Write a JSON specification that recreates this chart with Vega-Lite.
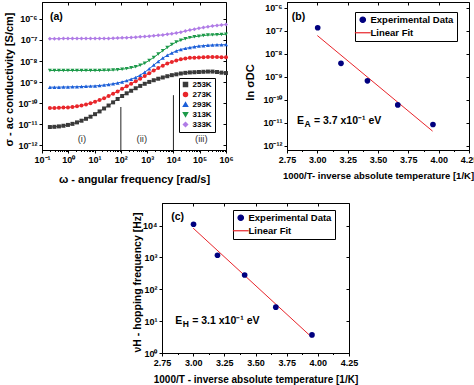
{
"$schema":"https://vega.github.io/schema/vega-lite/v6.json",
"padding":{"left":2,"top":1,"right":0,"bottom":0},
"background":"white",
"spacing":17,
"config":{
 "font":"Liberation Sans",
 "view":{"stroke":"black","strokeWidth":1},
 "axis":{"grid":false,"domainColor":"black","tickColor":"black","labelColor":"black","titleColor":"black","labelFontWeight":"bold","labelFontSize":9,"titleFontWeight":"bold","tickSize":3,"labelPadding":2,"labelOverlap":false,"labelFlush":false,"labelBound":false},
 "legend":{"labelColor":"black","labelFontWeight":"bold","rowPadding":0}
},
"datasets":{
"cond":[
{"w":0.1995,"T":"253K","s":7.41e-12},{"w":0.2965,"T":"253K","s":7.59e-12},{"w":0.4406,"T":"253K","s":7.94e-12},{"w":0.6531,"T":"253K","s":8.51e-12},{"w":0.9705,"T":"253K","s":9.33e-12},{"w":1.442,"T":"253K","s":1.047e-11},{"w":2.143,"T":"253K","s":1.23e-11},{"w":3.184,"T":"253K","s":1.479e-11},{"w":4.721,"T":"253K","s":1.82e-11},{"w":7.015,"T":"253K","s":2.29e-11},{"w":10.42,"T":"253K","s":3.02e-11},{"w":15.49,"T":"253K","s":4.07e-11},{"w":23.01,"T":"253K","s":5.62e-11},{"w":34.12,"T":"253K","s":7.76e-11},{"w":50.7,"T":"253K","s":1.096e-10},{"w":75.34,"T":"253K","s":1.585e-10},{"w":111.9,"T":"253K","s":2.19e-10},{"w":166.3,"T":"253K","s":2.95e-10},{"w":246.6,"T":"253K","s":3.89e-10},{"w":366.4,"T":"253K","s":5.13e-10},{"w":544.5,"T":"253K","s":6.61e-10},{"w":809.1,"T":"253K","s":8.32e-10},{"w":1202,"T":"253K","s":1.023e-9},{"w":1782,"T":"253K","s":1.23e-9},{"w":2649,"T":"253K","s":1.445e-9},{"w":3936,"T":"253K","s":1.66e-9},{"w":5848,"T":"253K","s":1.905e-9},{"w":8690,"T":"253K","s":2.14e-9},{"w":12882,"T":"253K","s":2.34e-9},{"w":19143,"T":"253K","s":2.57e-9},{"w":28445,"T":"253K","s":2.75e-9},{"w":42267,"T":"253K","s":2.88e-9},{"w":62806,"T":"253K","s":2.95e-9},{"w":93111,"T":"253K","s":3.02e-9},{"w":138357,"T":"253K","s":3.09e-9},{"w":205589,"T":"253K","s":3.16e-9},{"w":305492,"T":"253K","s":3.16e-9},{"w":453942,"T":"253K","s":3.02e-9},{"w":672977,"T":"253K","s":2.82e-9},{"w":1000000,"T":"253K","s":2.69e-9},
{"w":0.1995,"T":"273K","s":5.89e-11},{"w":0.2965,"T":"273K","s":5.89e-11},{"w":0.4406,"T":"273K","s":6.03e-11},{"w":0.6531,"T":"273K","s":6.17e-11},{"w":0.9705,"T":"273K","s":6.31e-11},{"w":1.442,"T":"273K","s":6.61e-11},{"w":2.143,"T":"273K","s":7.08e-11},{"w":3.184,"T":"273K","s":7.76e-11},{"w":4.721,"T":"273K","s":8.71e-11},{"w":7.015,"T":"273K","s":1.0e-10},{"w":10.42,"T":"273K","s":1.175e-10},{"w":15.49,"T":"273K","s":1.413e-10},{"w":23.01,"T":"273K","s":1.738e-10},{"w":34.12,"T":"273K","s":2.19e-10},{"w":50.7,"T":"273K","s":2.82e-10},{"w":75.34,"T":"273K","s":3.63e-10},{"w":111.9,"T":"273K","s":4.79e-10},{"w":166.3,"T":"273K","s":6.31e-10},{"w":246.6,"T":"273K","s":8.32e-10},{"w":366.4,"T":"273K","s":1.096e-9},{"w":544.5,"T":"273K","s":1.445e-9},{"w":809.1,"T":"273K","s":1.95e-9},{"w":1202,"T":"273K","s":2.63e-9},{"w":1782,"T":"273K","s":3.55e-9},{"w":2649,"T":"273K","s":4.68e-9},{"w":3936,"T":"273K","s":6.03e-9},{"w":5848,"T":"273K","s":7.59e-9},{"w":8690,"T":"273K","s":9.12e-9},{"w":12882,"T":"273K","s":1.072e-8},{"w":19143,"T":"273K","s":1.202e-8},{"w":28445,"T":"273K","s":1.318e-8},{"w":42267,"T":"273K","s":1.413e-8},{"w":62806,"T":"273K","s":1.445e-8},{"w":93111,"T":"273K","s":1.479e-8},{"w":138357,"T":"273K","s":1.514e-8},{"w":205589,"T":"273K","s":1.549e-8},{"w":305492,"T":"273K","s":1.549e-8},{"w":453942,"T":"273K","s":1.549e-8},{"w":672977,"T":"273K","s":1.514e-8},{"w":1000000,"T":"273K","s":1.514e-8},
{"w":0.1995,"T":"293K","s":5.75e-10},{"w":0.2965,"T":"293K","s":5.75e-10},{"w":0.4406,"T":"293K","s":5.75e-10},{"w":0.6531,"T":"293K","s":5.89e-10},{"w":0.9705,"T":"293K","s":5.89e-10},{"w":1.442,"T":"293K","s":6.03e-10},{"w":2.143,"T":"293K","s":6.03e-10},{"w":3.184,"T":"293K","s":6.17e-10},{"w":4.721,"T":"293K","s":6.31e-10},{"w":7.015,"T":"293K","s":6.46e-10},{"w":10.42,"T":"293K","s":6.61e-10},{"w":15.49,"T":"293K","s":6.92e-10},{"w":23.01,"T":"293K","s":7.24e-10},{"w":34.12,"T":"293K","s":7.76e-10},{"w":50.7,"T":"293K","s":8.32e-10},{"w":75.34,"T":"293K","s":9.12e-10},{"w":111.9,"T":"293K","s":1.023e-9},{"w":166.3,"T":"293K","s":1.175e-9},{"w":246.6,"T":"293K","s":1.38e-9},{"w":366.4,"T":"293K","s":1.66e-9},{"w":544.5,"T":"293K","s":2.14e-9},{"w":809.1,"T":"293K","s":2.95e-9},{"w":1202,"T":"293K","s":4.27e-9},{"w":1782,"T":"293K","s":6.46e-9},{"w":2649,"T":"293K","s":9.55e-9},{"w":3936,"T":"293K","s":1.38e-8},{"w":5848,"T":"293K","s":1.862e-8},{"w":8690,"T":"293K","s":2.4e-8},{"w":12882,"T":"293K","s":3.02e-8},{"w":19143,"T":"293K","s":3.55e-8},{"w":28445,"T":"293K","s":3.98e-8},{"w":42267,"T":"293K","s":4.37e-8},{"w":62806,"T":"293K","s":4.79e-8},{"w":93111,"T":"293K","s":5.13e-8},{"w":138357,"T":"293K","s":5.37e-8},{"w":205589,"T":"293K","s":5.62e-8},{"w":305492,"T":"293K","s":5.75e-8},{"w":453942,"T":"293K","s":5.89e-8},{"w":672977,"T":"293K","s":5.89e-8},{"w":1000000,"T":"293K","s":6.03e-8},
{"w":0.1995,"T":"313K","s":3.55e-9},{"w":0.2965,"T":"313K","s":3.55e-9},{"w":0.4406,"T":"313K","s":3.55e-9},{"w":0.6531,"T":"313K","s":3.55e-9},{"w":0.9705,"T":"313K","s":3.55e-9},{"w":1.442,"T":"313K","s":3.55e-9},{"w":2.143,"T":"313K","s":3.55e-9},{"w":3.184,"T":"313K","s":3.55e-9},{"w":4.721,"T":"313K","s":3.55e-9},{"w":7.015,"T":"313K","s":3.55e-9},{"w":10.42,"T":"313K","s":3.55e-9},{"w":15.49,"T":"313K","s":3.55e-9},{"w":23.01,"T":"313K","s":3.63e-9},{"w":34.12,"T":"313K","s":3.63e-9},{"w":50.7,"T":"313K","s":3.72e-9},{"w":75.34,"T":"313K","s":3.89e-9},{"w":111.9,"T":"313K","s":4.07e-9},{"w":166.3,"T":"313K","s":4.37e-9},{"w":246.6,"T":"313K","s":4.79e-9},{"w":366.4,"T":"313K","s":5.37e-9},{"w":544.5,"T":"313K","s":6.31e-9},{"w":809.1,"T":"313K","s":7.94e-9},{"w":1202,"T":"313K","s":1.072e-8},{"w":1782,"T":"313K","s":1.479e-8},{"w":2649,"T":"313K","s":2.14e-8},{"w":3936,"T":"313K","s":3.09e-8},{"w":5848,"T":"313K","s":4.37e-8},{"w":8690,"T":"313K","s":6.03e-8},{"w":12882,"T":"313K","s":7.94e-8},{"w":19143,"T":"313K","s":9.77e-8},{"w":28445,"T":"313K","s":1.148e-7},{"w":42267,"T":"313K","s":1.288e-7},{"w":62806,"T":"313K","s":1.413e-7},{"w":93111,"T":"313K","s":1.514e-7},{"w":138357,"T":"313K","s":1.622e-7},{"w":205589,"T":"313K","s":1.698e-7},{"w":305492,"T":"313K","s":1.738e-7},{"w":453942,"T":"313K","s":1.778e-7},{"w":672977,"T":"313K","s":1.82e-7},{"w":1000000,"T":"313K","s":1.862e-7},
{"w":0.1995,"T":"333K","s":1.148e-7},{"w":0.2965,"T":"333K","s":1.148e-7},{"w":0.4406,"T":"333K","s":1.148e-7},{"w":0.6531,"T":"333K","s":1.175e-7},{"w":0.9705,"T":"333K","s":1.175e-7},{"w":1.442,"T":"333K","s":1.175e-7},{"w":2.143,"T":"333K","s":1.175e-7},{"w":3.184,"T":"333K","s":1.175e-7},{"w":4.721,"T":"333K","s":1.175e-7},{"w":7.015,"T":"333K","s":1.175e-7},{"w":10.42,"T":"333K","s":1.175e-7},{"w":15.49,"T":"333K","s":1.175e-7},{"w":23.01,"T":"333K","s":1.175e-7},{"w":34.12,"T":"333K","s":1.175e-7},{"w":50.7,"T":"333K","s":1.202e-7},{"w":75.34,"T":"333K","s":1.23e-7},{"w":111.9,"T":"333K","s":1.259e-7},{"w":166.3,"T":"333K","s":1.288e-7},{"w":246.6,"T":"333K","s":1.318e-7},{"w":366.4,"T":"333K","s":1.349e-7},{"w":544.5,"T":"333K","s":1.413e-7},{"w":809.1,"T":"333K","s":1.445e-7},{"w":1202,"T":"333K","s":1.514e-7},{"w":1782,"T":"333K","s":1.585e-7},{"w":2649,"T":"333K","s":1.66e-7},{"w":3936,"T":"333K","s":1.738e-7},{"w":5848,"T":"333K","s":1.862e-7},{"w":8690,"T":"333K","s":1.995e-7},{"w":12882,"T":"333K","s":2.14e-7},{"w":19143,"T":"333K","s":2.34e-7},{"w":28445,"T":"333K","s":2.63e-7},{"w":42267,"T":"333K","s":2.95e-7},{"w":62806,"T":"333K","s":3.24e-7},{"w":93111,"T":"333K","s":3.55e-7},{"w":138357,"T":"333K","s":3.89e-7},{"w":205589,"T":"333K","s":4.27e-7},{"w":305492,"T":"333K","s":4.57e-7},{"w":453942,"T":"333K","s":4.9e-7},{"w":672977,"T":"333K","s":5.13e-7},{"w":1000000,"T":"333K","s":5.37e-7}
]
},
"vconcat":[
{"hconcat":[
 {"width":184,"height":148,
  "resolve":{"axis":{"x":"independent","y":"independent"}},
  "layer":[
   {"data":{"name":"cond"},"mark":{"type":"line","strokeWidth":1},
    "encoding":{
     "x":{"field":"w","type":"quantitative","scale":{"type":"log","domain":[0.1,1000000],"nice":false},
      "axis":{"title":"ω - angular frequency [rad/s]","values":[0.1,1,10,100,1000,10000,100000,1000000],"labelExpr":"'10' + (round(log(datum.value)/LN10) < 0 ? '⁻' : '') + (abs(round(log(datum.value)/LN10)) >= 10 ? '¹' : '') + ['⁰','¹','²','³','⁴','⁵','⁶','⁷','⁸','⁹'][abs(round(log(datum.value)/LN10)) % 10]","titleFontSize":11,"titleY":23}},
     "y":{"field":"s","type":"quantitative","scale":{"type":"log","domain":[6.03e-13,6.31e-6],"nice":false},
      "axis":{"title":"σ - ac conductivity [S/cm]","values":[1e-12,1e-11,1e-10,1e-9,1e-8,1e-7,1e-6],"labelExpr":"'10' + (round(log(datum.value)/LN10) < 0 ? '⁻' : '') + (abs(round(log(datum.value)/LN10)) >= 10 ? '¹' : '') + ['⁰','¹','²','³','⁴','⁵','⁶','⁷','⁸','⁹'][abs(round(log(datum.value)/LN10)) % 10]","titleFontSize":11,"titleX":-28,"titleY":77}},
     "color":{"field":"T","type":"nominal","scale":{"domain":["253K","273K","293K","313K","333K"],"range":["#3a3a3a","#e8262b","#1c5fd8","#1d9a4a","#b07ce6"]},
      "legend":{"orient":"none","legendX":137,"legendY":76,"title":null,"strokeColor":"black","fillColor":"white","padding":2.5,"labelFontSize":8,"symbolSize":16,"rowPadding":0,"labelOffset":3}}
    }},
   {"data":{"name":"cond"},"mark":{"type":"point","filled":true,"size":16,"opacity":1},
    "encoding":{
     "x":{"field":"w","type":"quantitative","axis":null},
     "y":{"field":"s","type":"quantitative","axis":null},
     "color":{"field":"T","type":"nominal","legend":{"orient":"none","legendX":137,"legendY":76,"title":null,"strokeColor":"black","fillColor":"white","padding":2.5,"labelFontSize":8,"symbolSize":16,"rowPadding":0,"labelOffset":3}},
     "shape":{"field":"T","type":"nominal","scale":{"domain":["253K","273K","293K","313K","333K"],"range":["square","circle","triangle-up","triangle-down","diamond"]},
      "legend":{"orient":"none","legendX":137,"legendY":76,"title":null,"strokeColor":"black","fillColor":"white","padding":2.5,"labelFontSize":8,"symbolSize":16,"rowPadding":0,"labelOffset":3}}
    }},
   {"data":{"values":[{"w":100,"s":6.61e-11,"s2":6.03e-13},{"w":10000,"s":2.4e-10,"s2":6.03e-13}]},
    "mark":{"type":"rule","color":"#222222","strokeWidth":1},
    "encoding":{"x":{"field":"w","type":"quantitative","axis":null},"y":{"field":"s","type":"quantitative","axis":null},"y2":{"field":"s2"}}},
   {"data":{"values":[{"w":3.3,"s":2.0e-12,"lab":"(i)"},{"w":630,"s":2.0e-12,"lab":"(ii)"},{"w":115000,"s":2.0e-12,"lab":"(iii)"}]},
    "mark":{"type":"text","fontSize":9.5,"color":"#333333","baseline":"middle"},
    "encoding":{
     "x":{"field":"w","type":"quantitative","axis":{"orient":"bottom","values":[0.2,0.3,0.4,0.5,0.6,0.7,0.8,0.9,2,3,4,5,6,7,8,9,20,30,40,50,60,70,80,90,200,300,400,500,600,700,800,900,2000,3000,4000,5000,6000,7000,8000,9000,20000,30000,40000,50000,60000,70000,80000,90000,200000,300000,400000,500000,600000,700000,800000,900000],"labels":false,"title":null,"domain":false,"tickSize":1.5}},
     "y":{"field":"s","type":"quantitative","axis":null},"text":{"field":"lab"}}},
   {"data":{"values":[{"w":0.2,"s":1.2e-6,"lab":"(a)"}]},
    "mark":{"type":"text","fontSize":10.5,"fontWeight":"bold","color":"black","align":"left","baseline":"middle"},
    "encoding":{
     "x":{"field":"w","type":"quantitative","axis":{"orient":"top","values":[0.1,1,10,100,1000,10000,100000,1000000],"labels":false,"title":null,"domain":false,"tickSize":-3}},
     "y":{"field":"s","type":"quantitative","axis":{"orient":"right","values":[1e-12,1e-11,1e-10,1e-9,1e-8,1e-7,1e-6],"labels":false,"title":null,"domain":false,"tickSize":-3}},
     "text":{"field":"lab"}}}
  ]},
 {"width":182,"height":148,
  "resolve":{"axis":{"x":"independent","y":"independent"}},
  "layer":[
   {"data":{"values":[{"x":3.0,"y":6.31e-8,"series":"Linear Fit"},{"x":3.95,"y":4.37e-12,"series":"Linear Fit"}]},
    "mark":{"type":"line","strokeWidth":1},
    "encoding":{
     "x":{"field":"x","type":"quantitative","scale":{"domain":[2.75,4.25],"nice":false,"zero":false},
      "axis":{"title":"1000/T- inverse absolute temperature [1/K]","values":[2.75,3,3.25,3.5,3.75,4,4.25],"format":".2f","titleFontSize":9.5,"titleY":20}},
     "y":{"field":"y","type":"quantitative","scale":{"type":"log","domain":[6.61e-13,1.82e-6],"nice":false},
      "axis":{"title":"ln σDC","values":[1e-12,1e-11,1e-10,1e-9,1e-8,1e-7,1e-6],"labelExpr":"'10' + (round(log(datum.value)/LN10) < 0 ? '⁻' : '') + (abs(round(log(datum.value)/LN10)) >= 10 ? '¹' : '') + ['⁰','¹','²','³','⁴','⁵','⁶','⁷','⁸','⁹'][abs(round(log(datum.value)/LN10)) % 10]","titleFontSize":11,"titleX":-32,"titleY":80}},
     "color":{"field":"series","type":"nominal","scale":{"domain":["Experimental Data","Linear Fit"],"range":["#00007f","#e8242a"]},
      "legend":{"orient":"none","legendX":68,"legendY":10,"title":null,"strokeColor":"black","fillColor":"white","padding":3,"labelFontSize":9.5,"symbolSize":150,"rowPadding":2,"labelOffset":3,
       "encode":{"symbols":{"update":{"shape":{"signal":"datum.value === 'Linear Fit' ? 'stroke' : 'circle'"},"fill":{"signal":"datum.value === 'Linear Fit' ? 'transparent' : '#00007f'"},"stroke":{"signal":"datum.value === 'Linear Fit' ? '#e8242a' : 'transparent'"},"size":{"signal":"datum.value === 'Linear Fit' ? 250 : 30"},"strokeWidth":{"value":1.2},"opacity":{"value":1}}}}}}
    }},
   {"data":{"values":[{"x":3.003,"y":1.38e-7,"series":"Experimental Data"},{"x":3.195,"y":3.89e-9,"series":"Experimental Data"},{"x":3.413,"y":6.76e-10,"series":"Experimental Data"},{"x":3.663,"y":6.03e-11,"series":"Experimental Data"},{"x":3.953,"y":8.51e-12,"series":"Experimental Data"}]},
    "mark":{"type":"point","filled":true,"size":32,"opacity":1},
    "encoding":{"x":{"field":"x","type":"quantitative","axis":null},"y":{"field":"y","type":"quantitative","axis":null},"color":{"field":"series","type":"nominal"}}},
   {"data":{"values":[{"x":2.79,"y":4.07e-7,"t":"(b)"}]},
    "mark":{"type":"text","fontSize":10.5,"fontWeight":"bold","color":"black","align":"left","baseline":"middle"},
    "encoding":{
     "x":{"field":"x","type":"quantitative","axis":{"orient":"top","values":[2.75,3,3.25,3.5,3.75,4,4.25],"labels":false,"title":null,"domain":false,"tickSize":-3}},
     "y":{"field":"y","type":"quantitative","axis":{"orient":"right","values":[1e-12,1e-11,1e-10,1e-9,1e-8,1e-7,1e-6],"labels":false,"title":null,"domain":false,"tickSize":-3}},
     "text":{"field":"t"}}},
   {"data":{"values":[{"x":2.832,"y":1.17e-11,"t":"E"}]},
    "mark":{"type":"text","fontSize":10.5,"fontWeight":"bold","color":"black","align":"left","baseline":"middle"},
    "encoding":{
     "x":{"field":"x","type":"quantitative","axis":{"orient":"bottom","values":[2.875,3.125,3.375,3.625,3.875,4.125],"labels":false,"title":null,"domain":false,"tickSize":1.5}},
     "y":{"field":"y","type":"quantitative","axis":null},"text":{"field":"t"}}},
   {"data":{"values":[{"x":2.832,"y":1.17e-11,"t":"A"}]},
    "mark":{"type":"text","fontSize":8.5,"fontWeight":"bold","color":"black","align":"left","baseline":"middle","dx":7.5,"dy":3},
    "encoding":{"x":{"field":"x","type":"quantitative","axis":null},"y":{"field":"y","type":"quantitative","axis":null},"text":{"field":"t"}}},
   {"data":{"values":[{"x":2.832,"y":1.17e-11,"t":"= 3.7 x10⁻¹ eV"}]},
    "mark":{"type":"text","fontSize":10.5,"fontWeight":"bold","color":"black","align":"left","baseline":"middle","dx":17},
    "encoding":{"x":{"field":"x","type":"quantitative","axis":null},"y":{"field":"y","type":"quantitative","axis":null},"text":{"field":"t"}}}
  ]}
 ],"spacing":61,"bounds":"flush",
 "resolve":{"scale":{"x":"independent","y":"independent","color":"independent","shape":"independent"},"legend":{"color":"independent","shape":"independent"}}},
{"hconcat":[
 {"width":100,"height":150,"view":{"stroke":"white"},"data":{"values":[{"k":1}]},"mark":{"type":"point","opacity":0},"encoding":{}},
 {"width":187,"height":150,
  "resolve":{"axis":{"x":"independent","y":"independent"}},
  "layer":[
   {"data":{"values":[{"x":3.0,"y":8318,"series":"Linear Fit"},{"x":3.95,"y":3.16,"series":"Linear Fit"}]},
    "mark":{"type":"line","strokeWidth":1},
    "encoding":{
     "x":{"field":"x","type":"quantitative","scale":{"domain":[2.75,4.25],"nice":false,"zero":false},
      "axis":{"title":"1000/T - inverse absolute temperature [1/K]","values":[2.75,3,3.25,3.5,3.75,4,4.25],"format":".2f","titleFontSize":10,"titleY":21}},
     "y":{"field":"y","type":"quantitative","scale":{"type":"log","domain":[1,51300],"nice":false},
      "axis":{"title":"νH - hopping frequency [Hz]","values":[1,10,100,1000,10000],"labelExpr":"'10' + (round(log(datum.value)/LN10) < 0 ? '⁻' : '') + (abs(round(log(datum.value)/LN10)) >= 10 ? '¹' : '') + ['⁰','¹','²','³','⁴','⁵','⁶','⁷','⁸','⁹'][abs(round(log(datum.value)/LN10)) % 10]","titleFontSize":10.5,"titleX":-20,"titleY":79}},
     "color":{"field":"series","type":"nominal","scale":{"domain":["Experimental Data","Linear Fit"],"range":["#00007f","#e8242a"]},
      "legend":{"orient":"none","legendX":71,"legendY":7,"title":null,"strokeColor":"black","fillColor":"white","padding":3,"labelFontSize":9.5,"symbolSize":150,"rowPadding":2,"labelOffset":3,
       "encode":{"symbols":{"update":{"shape":{"signal":"datum.value === 'Linear Fit' ? 'stroke' : 'circle'"},"fill":{"signal":"datum.value === 'Linear Fit' ? 'transparent' : '#00007f'"},"stroke":{"signal":"datum.value === 'Linear Fit' ? '#e8242a' : 'transparent'"},"size":{"signal":"datum.value === 'Linear Fit' ? 250 : 30"},"strokeWidth":{"value":1.2},"opacity":{"value":1}}}}}}
    }},
   {"data":{"values":[{"x":3.003,"y":11000,"series":"Experimental Data"},{"x":3.195,"y":1175,"series":"Experimental Data"},{"x":3.413,"y":282,"series":"Experimental Data"},{"x":3.663,"y":27.5,"series":"Experimental Data"},{"x":3.953,"y":3.7,"series":"Experimental Data"}]},
    "mark":{"type":"point","filled":true,"size":32,"opacity":1},
    "encoding":{"x":{"field":"x","type":"quantitative","axis":null},"y":{"field":"y","type":"quantitative","axis":null},"color":{"field":"series","type":"nominal"}}},
   {"data":{"values":[{"x":2.824,"y":19000,"t":"(c)"}]},
    "mark":{"type":"text","fontSize":10.5,"fontWeight":"bold","color":"black","align":"left","baseline":"middle"},
    "encoding":{
     "x":{"field":"x","type":"quantitative","axis":{"orient":"top","values":[2.75,3,3.25,3.5,3.75,4,4.25],"labels":false,"title":null,"domain":false,"tickSize":-3}},
     "y":{"field":"y","type":"quantitative","axis":{"orient":"right","values":[1,10,100,1000,10000],"labels":false,"title":null,"domain":false,"tickSize":-3}},
     "text":{"field":"t"}}},
   {"data":{"values":[{"x":2.856,"y":10,"t":"E"}]},
    "mark":{"type":"text","fontSize":10.5,"fontWeight":"bold","color":"black","align":"left","baseline":"middle"},
    "encoding":{
     "x":{"field":"x","type":"quantitative","axis":{"orient":"bottom","values":[2.875,3.125,3.375,3.625,3.875,4.125],"labels":false,"title":null,"domain":false,"tickSize":1.5}},
     "y":{"field":"y","type":"quantitative","axis":null},"text":{"field":"t"}}},
   {"data":{"values":[{"x":2.856,"y":10,"t":"H"}]},
    "mark":{"type":"text","fontSize":8.5,"fontWeight":"bold","color":"black","align":"left","baseline":"middle","dx":7.5,"dy":3},
    "encoding":{"x":{"field":"x","type":"quantitative","axis":null},"y":{"field":"y","type":"quantitative","axis":null},"text":{"field":"t"}}},
   {"data":{"values":[{"x":2.856,"y":10,"t":"= 3.1 x10⁻¹  eV"}]},
    "mark":{"type":"text","fontSize":10.5,"fontWeight":"bold","color":"black","align":"left","baseline":"middle","dx":17},
    "encoding":{"x":{"field":"x","type":"quantitative","axis":null},"y":{"field":"y","type":"quantitative","axis":null},"text":{"field":"t"}}}
  ]}
 ],"spacing":20,"bounds":"flush",
 "resolve":{"scale":{"x":"independent","y":"independent","color":"independent","shape":"independent"},"legend":{"color":"independent","shape":"independent"}}}
],
"resolve":{"scale":{"x":"independent","y":"independent","color":"independent","shape":"independent"},"legend":{"color":"independent","shape":"independent"}}
}
